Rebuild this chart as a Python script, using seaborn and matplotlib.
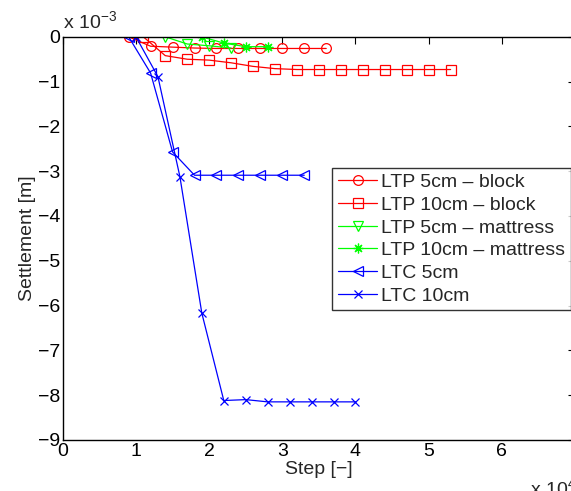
import numpy as np
import pandas as pd
import matplotlib
matplotlib.use("Agg")
import matplotlib.pyplot as plt
import seaborn as sns
from matplotlib.ticker import FuncFormatter, MultipleLocator

# ── Data (step [-], settlement [m]) ──────────────────────────────────────────

ltp5_block_x = [9000, 12000, 15000, 18000, 21000, 24000, 27000, 30000, 33000, 36000]
ltp5_block_y = [0, -0.21e-3, -0.23e-3, -0.25e-3, -0.26e-3, -0.26e-3, -0.26e-3,
                -0.26e-3, -0.26e-3, -0.26e-3]

ltp10_block_x = [11000, 14000, 17000, 20000, 23000, 26000, 29000, 32000,
                 35000, 38000, 41000, 44000, 47000, 50000, 53000]
ltp10_block_y = [0, -0.42e-3, -0.50e-3, -0.52e-3, -0.58e-3, -0.66e-3, -0.71e-3,
                 -0.73e-3, -0.73e-3, -0.73e-3, -0.73e-3, -0.73e-3, -0.73e-3,
                 -0.73e-3, -0.73e-3]

ltp5_matt_x = [14000, 17000, 20000, 23000]
ltp5_matt_y = [0, -0.16e-3, -0.20e-3, -0.25e-3]

ltp10_matt_x = [19000, 22000, 25000, 28000]
ltp10_matt_y = [0, -0.14e-3, -0.22e-3, -0.22e-3]

ltc5_x = [9000, 12000, 15000, 18000, 21000, 24000, 27000, 30000, 33000]
ltc5_y = [0, -0.81e-3, -2.57e-3, -3.09e-3, -3.09e-3, -3.09e-3, -3.09e-3,
          -3.09e-3, -3.09e-3]

ltc10_x = [10000, 13000, 16000, 19000, 22000, 25000, 28000, 31000, 34000, 37000, 40000]
ltc10_y = [0, -0.89e-3, -3.12e-3, -6.17e-3, -8.12e-3, -8.10e-3, -8.15e-3,
           -8.15e-3, -8.15e-3, -8.15e-3, -8.15e-3]

labels = ["LTP 5cm \u2013 block", "LTP 10cm \u2013 block", "LTP 5cm \u2013 mattress",
          "LTP 10cm \u2013 mattress", "LTC 5cm", "LTC 10cm"]

# MATLAB-like asterisk: 8-armed star of lines
asterisk = (8, 2, 0)

series = [
    (ltp5_block_x,  ltp5_block_y,  "#ff0000", "o",      7),
    (ltp10_block_x, ltp10_block_y, "#ff0000", "s",      7),
    (ltp5_matt_x,   ltp5_matt_y,   "#00ff00", "v",      7.5),
    (ltp10_matt_x,  ltp10_matt_y,  "#00ff00", asterisk, 7),
    (ltc5_x,        ltc5_y,        "#0000ff", "<",      7.5),
    (ltc10_x,       ltc10_y,       "#0000ff", "x",      5.5),
]

# ── Plot ─────────────────────────────────────────────────────────────────────

sns.set_theme(style="white")
plt.rcParams["font.family"] = ["Liberation Sans", "DejaVu Sans"]
plt.rcParams["font.size"] = 14


def fmt_y(v, pos):
    n = int(round(v / 1e-3))
    return str(n).replace("-", "\u2212")


fig = plt.figure(figsize=(5.71, 4.91), dpi=100)
ax = fig.add_axes([0.110, 0.104, 0.897, 0.821])

for (x, y, color, marker, ms), label in zip(series, labels):
    df = pd.DataFrame({"step": x, "settlement": y})
    sns.lineplot(data=df, x="step", y="settlement", ax=ax, color=color,
                 marker=marker, markersize=ms,
                 markerfacecolor="none", markeredgecolor=color,
                 markeredgewidth=0.9, linewidth=0.9, label=label,
                 estimator=None, sort=False)

ax.set_xlim(0, 70000)
ax.set_ylim(-9e-3, 0)
ax.xaxis.set_major_locator(MultipleLocator(10000))
ax.yaxis.set_major_locator(MultipleLocator(1e-3))
ax.xaxis.set_major_formatter(FuncFormatter(lambda v, p: f"{v / 1e4:.0f}"))
ax.yaxis.set_major_formatter(FuncFormatter(fmt_y))

ax.tick_params(direction="in", length=5, width=0.8, top=True, right=True,
               labelsize=14, colors="black", pad=2)
for s in ax.spines.values():
    s.set_color("black")
    s.set_linewidth(1.0)

ax.set_xlabel("Step [\u2212]", fontsize=14, labelpad=1)
ax.set_ylabel("Settlement [m]", fontsize=14, labelpad=1)

ax.text(0.0, 1.01, "x 10$^{\\mathregular{-3}}$", transform=ax.transAxes,
        fontsize=14, ha="left", va="bottom")
ax.text(0.912, -0.092, "x 10$^{\\mathregular{4}}$", transform=ax.transAxes,
        fontsize=14, ha="left", va="top")

leg = ax.legend(loc="upper right", bbox_to_anchor=(0.992, 0.675), fontsize=14,
                frameon=True, fancybox=False, edgecolor="black",
                handlelength=2.0, handletextpad=0.2, labelspacing=0.26,
                borderpad=0.3, borderaxespad=0.0)
leg.get_frame().set_linewidth(1.0)

fig.savefig("out.png", dpi=100)
